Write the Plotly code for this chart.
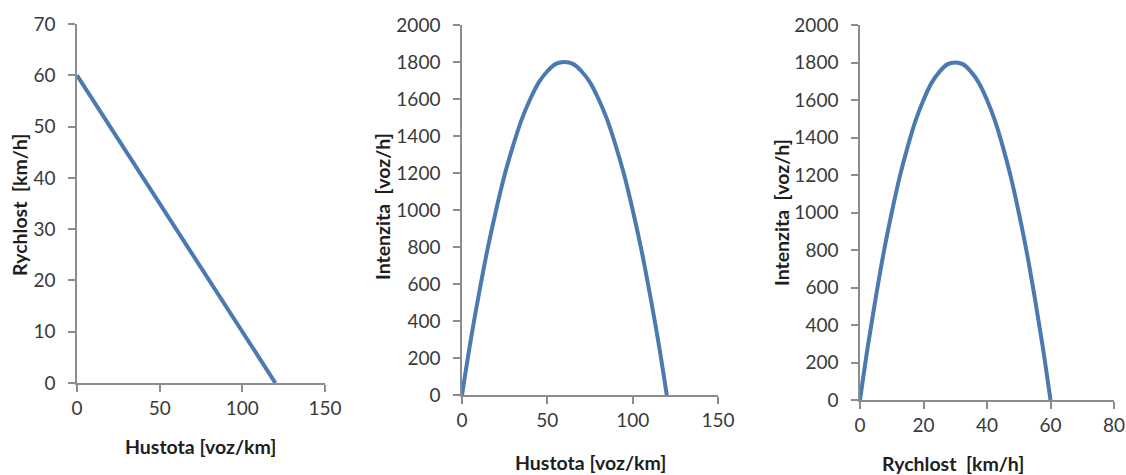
import plotly.graph_objects as go

W, H = 1126, 475

# Panel 1: speed vs density
density_1 = [0, 10, 20, 30, 40, 50, 60, 70, 80, 90, 100, 110, 120]
speed_1 = [60, 55, 50, 45, 40, 35, 30, 25, 20, 15, 10, 5, 0]

# Panel 2: flow vs density
density_2 = [0, 5, 10, 15, 20, 25, 30, 35, 40, 45, 50, 55, 60,
             65, 70, 75, 80, 85, 90, 95, 100, 105, 110, 115, 120]
flow_2 = [0, 290, 550, 790, 1000, 1190, 1350, 1490, 1600, 1690, 1750, 1790, 1800,
          1790, 1750, 1690, 1600, 1490, 1350, 1190, 1000, 790, 550, 290, 0]

# Panel 3: flow vs speed
speed_3 = [0, 2.5, 5, 7.5, 10, 12.5, 15, 17.5, 20, 22.5, 25, 27.5, 30,
           32.5, 35, 37.5, 40, 42.5, 45, 47.5, 50, 52.5, 55, 57.5, 60]
flow_3 = [0, 290, 550, 790, 1000, 1190, 1350, 1490, 1600, 1690, 1750, 1790, 1800,
          1790, 1750, 1690, 1600, 1490, 1350, 1190, 1000, 790, 550, 290, 0]

x_ticks_1 = [0, 50, 100, 150]
y_ticks_1 = [0, 10, 20, 30, 40, 50, 60, 70]
x_ticks_2 = [0, 50, 100, 150]
y_ticks_2 = [0, 200, 400, 600, 800, 1000, 1200, 1400, 1600, 1800, 2000]
x_ticks_3 = [0, 20, 40, 60, 80]
y_ticks_3 = y_ticks_2

LINE = "#4a7ab0"
AXIS = "#8c8c8c"
FONT = "Lato"

def px_x(p):
    return p / W

def px_y(p):
    return 1 - p / H

fig = go.Figure()
fig.add_trace(go.Scatter(x=density_1, y=speed_1, mode="lines",
                         line=dict(color=LINE, width=4), xaxis="x", yaxis="y"))
fig.add_trace(go.Scatter(x=density_2, y=flow_2, mode="lines",
                         line=dict(color=LINE, width=4, shape="spline"), xaxis="x2", yaxis="y2"))
fig.add_trace(go.Scatter(x=speed_3, y=flow_3, mode="lines",
                         line=dict(color=LINE, width=4, shape="spline"), xaxis="x3", yaxis="y3"))

def common(ticks):
    return dict(range=[ticks[0], ticks[-1]], tickvals=ticks, ticks="outside",
                ticklen=7, tickcolor=AXIS, tickwidth=1.5,
                showline=True, linecolor=AXIS, linewidth=1.5, showgrid=False,
                zeroline=False, automargin=False,
                tickfont=dict(family=FONT, size=19, color="#3a3a3a"))

def xa(dom, ticks, anchor):
    d = common(ticks)
    d.update(domain=[px_x(dom[0]), px_x(dom[1])], anchor=anchor)
    return d

def ya(dom, ticks, anchor):
    d = common(ticks)
    d.update(domain=[px_y(dom[1]), px_y(dom[0])], anchor=anchor, ticklabelstandoff=9)
    return d

fig.update_layout(
    width=W, height=H, margin=dict(l=0, r=0, t=0, b=0),
    plot_bgcolor="white", paper_bgcolor="white", showlegend=False,
    xaxis=xa((77, 325), x_ticks_1, "y"),
    yaxis=ya((24, 383), y_ticks_1, "x"),
    xaxis2=xa((462, 718), x_ticks_2, "y2"),
    yaxis2=ya((25, 395), y_ticks_2, "x2"),
    xaxis3=xa((860, 1114), x_ticks_3, "y3"),
    yaxis3=ya((25, 400), y_ticks_3, "x3"),
)

titles = [
    ("Hustota [voz/km]", 200, 446, 0),
    ("Rychlost  [km/h]", 19, 205, -90),
    ("Hustota [voz/km]", 590, 462, 0),
    ("Intenzita  [voz/h]", 382, 207, -90),
    ("Rychlost  [km/h]", 953, 463, 0),
    ("Intenzita  [voz/h]", 781, 213, -90),
]
for text, x, y, ang in titles:
    fig.add_annotation(text=text, x=px_x(x), y=px_y(y), xref="paper", yref="paper",
                       showarrow=False, textangle=ang, xanchor="center", yanchor="middle",
                       font=dict(family=FONT, size=19.5, color="#1e1e1e", weight="bold"))

fig.write_html("out.html", config={"displayModeBar": False},
               post_script="document.body.style.margin='0';")
